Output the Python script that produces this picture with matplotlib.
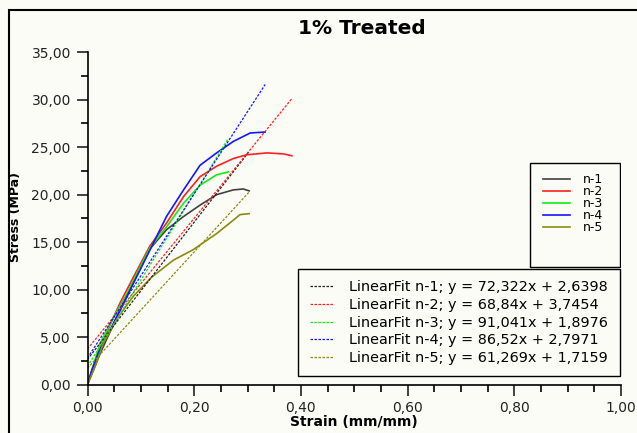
import matplotlib
matplotlib.use("Agg")
import matplotlib.pyplot as plt
from matplotlib.patches import Rectangle
from matplotlib.ticker import MultipleLocator, FuncFormatter
import numpy as np

# stress-strain curves
names = ["n-1", "n-2", "n-3", "n-4", "n-5"]
colors = ["#404040", "#ff2020", "#10ee10", "#1515ff", "#8a8a10"]
fit_colors = ["#202020", "#ff2020", "#10ee10", "#1515ff", "#8a8a10"]

strain_n1 = [0, 0.024, 0.05, 0.074, 0.095, 0.117, 0.148, 0.18, 0.211, 0.242, 0.273, 0.292, 0.303]
stress_n1 = [0, 3.3, 6.5, 9.3, 11.8, 14.3, 16.3, 17.7, 18.9, 20.0, 20.5, 20.6, 20.4]

strain_n2 = [0, 0.018, 0.04, 0.061, 0.085, 0.117, 0.148, 0.18, 0.211, 0.242, 0.273, 0.298, 0.336, 0.367, 0.383]
stress_n2 = [0, 3.0, 6.0, 8.6, 11.2, 14.6, 17.0, 19.8, 21.9, 23.0, 23.8, 24.2, 24.4, 24.3, 24.1]

strain_n3 = [0, 0.024, 0.05, 0.074, 0.095, 0.117, 0.148, 0.18, 0.211, 0.242, 0.264]
stress_n3 = [0, 4.4, 7.2, 9.6, 12.0, 14.4, 16.6, 19.1, 21.0, 22.1, 22.4]

strain_n4 = [0, 0.008, 0.02, 0.033, 0.058, 0.089, 0.12, 0.148, 0.18, 0.211, 0.242, 0.273, 0.305, 0.333]
stress_n4 = [0, 1.5, 3.3, 4.7, 7.5, 11.0, 14.5, 17.7, 20.5, 23.1, 24.4, 25.6, 26.5, 26.6]

strain_n5 = [0, 0.015, 0.03, 0.06, 0.086, 0.12, 0.161, 0.198, 0.242, 0.273, 0.286, 0.303]
stress_n5 = [0, 2.0, 4.4, 7.3, 9.3, 11.3, 13.1, 14.2, 15.9, 17.3, 17.9, 18.0]

strains = [strain_n1, strain_n2, strain_n3, strain_n4, strain_n5]
stresses = [stress_n1, stress_n2, stress_n3, stress_n4, stress_n5]

# linear fits from the legend
slopes = [72.322, 68.84, 91.041, 86.52, 61.269]
intercepts = [2.6398, 3.7454, 1.8976, 2.7971, 1.7159]

bg = "#fcfcf6"
fig = plt.figure(figsize=(6.37, 4.33), dpi=100, facecolor=bg)
ax = fig.add_axes([87.5 / 637, (433 - 384.5) / 433, (621 - 87.5) / 637, (384.5 - 52.3) / 433])
ax.set_facecolor(bg)

curve_handles = []
for xs, ys, c, n in zip(strains, stresses, colors, names):
    h, = ax.plot(xs, ys, color=c, lw=1.2, label=n)
    curve_handles.append(h)

fit_handles = []
for xs, m, b, c, n in zip(strains, slopes, intercepts, fit_colors, names):
    xf = np.array([0, xs[-1]])
    lbl = "LinearFit %s; y = %sx + %s" % (n, str(m).replace(".", ","), str(b).replace(".", ","))
    h, = ax.plot(xf, m * xf + b, color=c, lw=0.9, linestyle=(0, (2, 1.2)), label=lbl)
    fit_handles.append(h)

ax.set_xlim(0, 1)
ax.set_ylim(0, 35)
ax.xaxis.set_major_locator(MultipleLocator(0.2))
ax.xaxis.set_minor_locator(MultipleLocator(0.05))
ax.yaxis.set_major_locator(MultipleLocator(5))
ax.yaxis.set_minor_locator(MultipleLocator(2.5))
comma = FuncFormatter(lambda v, p: ("%.2f" % v).replace(".", ","))
ax.xaxis.set_major_formatter(comma)
ax.yaxis.set_major_formatter(comma)
ax.tick_params(which="major", length=8, width=1.2, labelsize=10, colors="#222222")
ax.tick_params(which="minor", length=4.8, width=1.2)
ax.tick_params(axis="x", pad=4)
ax.tick_params(axis="y", pad=4)
for s in ["top", "right"]:
    ax.spines[s].set_visible(False)
for s in ["left", "bottom"]:
    ax.spines[s].set_linewidth(1.2)

ax.set_xlabel("Strain (mm/mm)", fontsize=10, fontweight="bold", labelpad=0)
ax.set_ylabel("Stress (MPa)", fontsize=9, fontweight="bold")
ax.yaxis.set_label_coords(-0.123, 0.504)
fig.text(362 / 637, 1 - 29 / 433, "1% Treated", fontsize=14.5, fontweight="bold",
         ha="center", va="center")

# small legend: box drawn separately, entries sit near its top
box1 = Rectangle((0.8294, 0.3537), 0.1686, 0.3131, transform=ax.transAxes,
                 facecolor=bg, edgecolor="black", lw=1.0, zorder=4)
ax.add_patch(box1)
leg1 = ax.legend(handles=curve_handles, loc="upper left", bbox_to_anchor=(0.8538, 0.637),
                 fontsize=9, frameon=False, handlelength=2.15, handletextpad=1.05,
                 labelspacing=-0.08, borderpad=0, borderaxespad=0)
leg1.set_zorder(5)
ax.add_artist(leg1)
leg2 = ax.legend(handles=fit_handles, loc="lower right", bbox_to_anchor=(1.0, 0.02),
                 fontsize=10.4, fancybox=False, edgecolor="black", framealpha=1,
                 facecolor=bg, handlelength=1.7, handletextpad=1.05, labelspacing=0.26,
                 borderpad=0.78, borderaxespad=0.1)
leg2.get_frame().set_linewidth(1.0)

# outer frame
frame = Rectangle((9 / 637, -0.1), 1.2, 1.1 - 10 / 433, transform=fig.transFigure,
                  fill=False, edgecolor="black", lw=1.5)
fig.patches.append(frame)

fig.savefig("out.png", dpi=100, facecolor=bg)
